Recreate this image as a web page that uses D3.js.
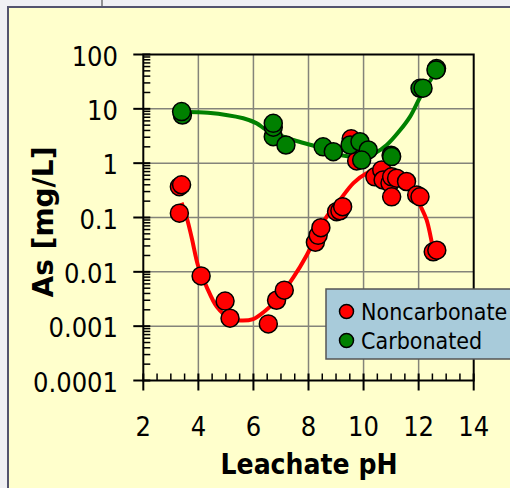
<!DOCTYPE html>
<html><head><meta charset="utf-8">
<script src="https://cdn.jsdelivr.net/npm/d3@7"></script>
<style>
html,body{margin:0;padding:0;background:#f2f2f5;overflow:hidden;}
svg{display:block;}
text{font-family:"DejaVu Sans Condensed","DejaVu Sans",sans-serif;font-stretch:condensed;}
</style></head>
<body>
<svg id="c" width="510" height="488"></svg>
<script>
// ---- data ----
const xTicks = [2, 4, 6, 8, 10, 12, 14];
const yTicks = [100, 10, 1, 0.1, 0.01, 0.001, 0.0001];
const yTickLabels = ["100", "10", "1", "0.1", "0.01", "0.001", "0.0001"];
const seriesNames = ["Noncarbonate", "Carbonated"];

const noncarbPH = [3.31, 3.39, 3.31, 4.10, 4.97, 5.15, 6.54, 6.84, 7.12, 8.25, 8.35, 8.45, 9.02, 9.14, 9.24, 9.55, 9.75, 10.41, 10.66, 10.71, 10.96, 11.02, 11.02, 11.20, 11.56, 11.93, 12.05, 12.53, 12.66];
const noncarbAs = [0.37, 0.40, 0.12, 0.0084, 0.0029, 0.0014, 0.0011, 0.0030, 0.0046, 0.035, 0.047, 0.065, 0.128, 0.133, 0.158, 2.8, 1.1, 0.56, 0.75, 0.49, 0.43, 0.56, 0.24, 0.53, 0.46, 0.26, 0.24, 0.0234, 0.025];

const carbPH = [3.42, 3.39, 6.72, 6.72, 6.72, 7.18, 8.53, 8.90, 9.51, 9.87, 10.17, 9.93, 11.00, 11.02, 12.05, 12.16, 12.65, 12.63];
const carbAs = [7.7, 8.9, 3.07, 4.6, 5.4, 2.16, 2.0, 1.63, 2.16, 2.48, 1.75, 1.14, 1.40, 1.32, 23.9, 24.0, 55, 52];

const redCurvePH = [3.39, 3.58, 3.76, 4.00, 4.30, 4.67, 5.15, 5.51, 5.99, 6.42, 6.84, 7.45, 7.93, 8.30, 8.66, 9.14, 9.63, 10.11, 10.59, 11.14, 11.69, 12.05, 12.29, 12.53];
const redCurveAs = [0.187, 0.098, 0.042, 0.0124, 0.0053, 0.00228, 0.00139, 0.00127, 0.00135, 0.0019, 0.0030, 0.0079, 0.020, 0.048, 0.104, 0.21, 0.43, 0.65, 0.80, 0.60, 0.40, 0.17, 0.09, 0.025];

const greenCurvePH = [3.39, 4.35, 5.63, 6.12, 6.48, 7.45, 8.30, 9.14, 9.87, 10.47, 10.84, 11.33, 11.69, 12.05, 12.47, 12.63];
const greenCurveAs = [8.75, 8.5, 6.7, 5.4, 4.07, 2.67, 2.01, 1.41, 1.33, 1.60, 2.16, 4.07, 7.2, 16.2, 36.5, 52];

// ---- layout ----
const svg = d3.select("#c");
const L = 143.3, R = 473.7, T = 54.5, B = 380.5;
const x = d3.scaleLinear().domain([2, 14]).range([L, R]);
const y = d3.scaleLog().domain([0.0001, 100]).range([B, T]);

// outer background + panel
svg.append("rect").attr("x", 0).attr("y", 0).attr("width", 510).attr("height", 488).attr("fill", "#f0f0f4");
svg.append("line").attr("x1", 102).attr("x2", 102).attr("y1", 0).attr("y2", 7).attr("stroke", "#333").attr("stroke-width", 1);
svg.append("rect").attr("x", 8).attr("y", 7).attr("width", 520).attr("height", 500)
  .attr("fill", "#FFFFCC").attr("stroke", "#54546e").attr("stroke-width", 2);

// grid
const g = svg.append("g");
g.selectAll("line.vg").data(xTicks.slice(1, -1)).enter().append("line")
  .attr("x1", d => x(d)).attr("x2", d => x(d)).attr("y1", T).attr("y2", B)
  .attr("stroke", "#84847a").attr("stroke-width", 1.5);
g.selectAll("line.hg").data(yTicks.slice(1, -1)).enter().append("line")
  .attr("x1", L).attr("x2", R).attr("y1", d => y(d)).attr("y2", d => y(d))
  .attr("stroke", "#84847a").attr("stroke-width", 1.5);

// frame
svg.append("rect").attr("x", L).attr("y", T).attr("width", R - L).attr("height", B - T)
  .attr("fill", "none").attr("stroke", "#000").attr("stroke-width", 2);

// y axis: major ticks outward + inward, minor inward
const yMinor = [];
for (let e = -4; e < 2; e++) for (let m = 2; m <= 9; m++) yMinor.push(m * Math.pow(10, e));
svg.selectAll("line.ymin").data(yMinor).enter().append("line")
  .attr("x1", L).attr("x2", L + 7).attr("y1", d => y(d)).attr("y2", d => y(d))
  .attr("stroke", "#000").attr("stroke-width", 1.5);
svg.selectAll("line.ymaj").data(yTicks).enter().append("line")
  .attr("x1", L - 10).attr("x2", L + 7).attr("y1", d => y(d)).attr("y2", d => y(d))
  .attr("stroke", "#000").attr("stroke-width", 2);
svg.selectAll("text.yl").data(yTicks).enter().append("text")
  .attr("x", 118).attr("y", d => y(d) + 11).attr("text-anchor", "end")
  .attr("font-size", 27).attr("fill", "#000").text((d, i) => yTickLabels[i]);

// x axis
const xMinor = d3.range(2.5, 14, 0.5).filter(v => v % 2 !== 0);
svg.selectAll("line.xmin").data(xMinor).enter().append("line")
  .attr("x1", d => x(d)).attr("x2", d => x(d)).attr("y1", B).attr("y2", B - 7)
  .attr("stroke", "#000").attr("stroke-width", 1.5);
svg.selectAll("line.xmaj").data(xTicks).enter().append("line")
  .attr("x1", d => x(d)).attr("x2", d => x(d)).attr("y1", B - 7).attr("y2", B + 10)
  .attr("stroke", "#000").attr("stroke-width", 2);
svg.selectAll("text.xl").data(xTicks).enter().append("text")
  .attr("x", d => x(d)).attr("y", 436).attr("text-anchor", "middle")
  .attr("font-size", 27).attr("fill", "#000").text(d => d);

// axis titles
svg.append("text").attr("x", 309).attr("y", 474).attr("text-anchor", "middle")
  .attr("font-size", 28).attr("font-weight", "bold").text("Leachate pH");
svg.append("text").attr("transform", "translate(53,222) rotate(-90)").attr("text-anchor", "middle")
  .attr("font-size", 28).attr("font-weight", "bold")
  .style("font-family", "'DejaVu Sans', sans-serif").style("font-stretch", "normal").text("As [mg/L]");

// curves
const line = d3.line().x(d => x(d[0])).y(d => y(d[1])).curve(d3.curveCatmullRom.alpha(0.5));
const redCurve = redCurvePH.map((v, i) => [v, redCurveAs[i]]);
const greenCurve = greenCurvePH.map((v, i) => [v, greenCurveAs[i]]);
svg.append("path").attr("d", line(redCurve)).attr("fill", "none").attr("stroke", "#FF0000").attr("stroke-width", 4);
svg.append("path").attr("d", line(greenCurve)).attr("fill", "none").attr("stroke", "#008000").attr("stroke-width", 4);

// points
const red = noncarbPH.map((v, i) => [v, noncarbAs[i]]);
const green = carbPH.map((v, i) => [v, carbAs[i]]);
svg.selectAll("circle.r").data(red).enter().append("circle")
  .attr("cx", d => x(d[0])).attr("cy", d => y(d[1])).attr("r", 9)
  .attr("fill", "#FF0000").attr("stroke", "#000").attr("stroke-width", 1.5);
svg.selectAll("circle.g").data(green).enter().append("circle")
  .attr("cx", d => x(d[0])).attr("cy", d => y(d[1])).attr("r", 9)
  .attr("fill", "#008000").attr("stroke", "#000").attr("stroke-width", 1.5);

// legend
const lg = svg.append("g");
lg.append("rect").attr("x", 326).attr("y", 289).attr("width", 200).attr("height", 70)
  .attr("fill", "#A8CBDA").attr("stroke", "#555").attr("stroke-width", 1.5);
const colors = ["#FF0000", "#008000"];
seriesNames.forEach((n, i) => {
  lg.append("circle").attr("cx", 346.5).attr("cy", 311.5 + i * 29).attr("r", 7)
    .attr("fill", colors[i]).attr("stroke", "#000").attr("stroke-width", 1.5);
  lg.append("text").attr("x", 361).attr("y", 319.5 + i * 29).attr("font-size", 23).text(n);
});
</script>
</body></html>
